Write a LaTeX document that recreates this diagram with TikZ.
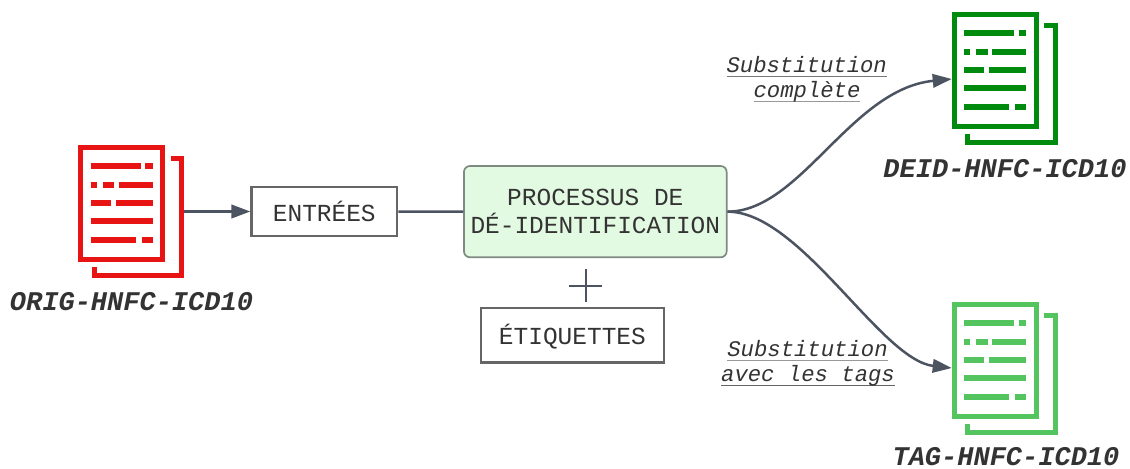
\documentclass[tikz,border=0pt]{standalone}
\usepackage{fontspec}
\setmonofont{Liberation Mono}
\usetikzlibrary{arrows.meta,calc}
\definecolor{inkc}{HTML}{333333}
\definecolor{linkc}{HTML}{4C5361}
\definecolor{boxc}{HTML}{666666}
\definecolor{ulmid}{HTML}{777777}
\definecolor{ullight}{HTML}{999999}
\definecolor{procfill}{HTML}{E2F9E2}
\definecolor{procline}{HTML}{7F8A82}
\definecolor{ured}{HTML}{E81313}
\definecolor{ugreen}{HTML}{008A0E}
\definecolor{ulight}{HTML}{54C45E}
\newlength{\pxu}\setlength{\pxu}{0.75pt}
\tikzset{
  x=0.75pt,y=-0.75pt,
  link/.style={draw=linkc,line width=2.5\pxu},
  arrowlink/.style={link,-{Triangle[length=14.25pt,width=10.1pt]}},
  plainbox/.style={draw=boxc,line width=2.4\pxu,fill=white,inner sep=0pt,text=inkc,
    font=\ttfamily\fontsize{18.35pt}{20.8pt}\selectfont,text depth=0pt},
  procbox/.style={draw=procline,line width=1.7\pxu,fill=procfill,rounded corners=6\pxu,
    inner sep=0pt,text=inkc,align=center,minimum width=262.7\pxu,minimum height=91.3\pxu,
    font=\ttfamily\fontsize{18.35pt}{20.8pt}\selectfont},
  doctitle/.style={anchor=base,inner sep=0pt,text=inkc,
    font=\ttfamily\bfseries\itshape\fontsize{20.25pt}{24pt}\selectfont},
  edgelabel/.style={anchor=base,inner sep=0pt,text=inkc,
    font=\ttfamily\itshape\fontsize{16.7pt}{20pt}\selectfont},
  plusline/.style={draw=linkc,line width=1.6\pxu},
  page/.style={draw=#1,line width=5\pxu,inner sep=0pt,minimum width=82\pxu,minimum height=111.7\pxu,fill=white},
}
% underlined label text
\newcommand{\ulabel}[2]{\setbox0=\hbox{#2}\rlap{\color{#1}\rule[-4.6\pxu]{\wd0}{1.1\pxu}}\box0}
% document icon: name, left, top, colour, arrow anchor offset x, y
\newcommand{\docicon}[7]{%
  \begin{scope}[shift={(#2,#3)}]
    \draw[#4,line width=5\pxu,line cap=butt,line join=miter]
      (92.7,13.5) -- (103.5,13.5) -- (103.5,130.5) -- (16.2,130.5) -- (16.2,122);
    \node[page=#4] (#1) at (43.5,58.35) {};
    \begin{scope}[#4,line width=6\pxu]
      \draw (12.3,21) -- (62.7,21) (67,21) -- (74.3,21);
      \draw (12.3,39.7) -- (18.7,39.7) (24.7,39.7) -- (36,39.7) (40.3,39.7) -- (74.3,39.7);
      \draw (12.3,58) -- (32.7,58) (37.7,58) -- (74.3,58);
      \draw (12.3,76.3) -- (74.3,76.3);
      \draw (12.3,94.7) -- (57.3,94.7) (63.3,94.7) -- (74.3,94.7);
    \end{scope}
    \coordinate (#1port) at (#5,#6);
    \node[doctitle] (#1title) at #7 {\doctext};
  \end{scope}}
\begin{document}
\begin{tikzpicture}
\useasboundingbox (0,0) rectangle (1130,468);
\def\doctext{ORIG-HNFC-ICD10}
\docicon{orig}{78.3}{145}{ured}{106}{66.5}{(53.2,165)}
\def\doctext{DEID-HNFC-ICD10}
\docicon{deid}{951.7}{12}{ugreen}{0}{67}{(53.3,165.5)}
\def\doctext{TAG-HNFC-ICD10}
\docicon{tagd}{951.7}{302}{ulight}{0}{66}{(54.3,163)}

\node[plainbox,minimum width=145.5\pxu,minimum height=48.5\pxu,text height=19\pxu] (entrees) at (324.3,211.5) {ENTRÉES};
\node[procbox] (proc) at (595.3,211.65) {PROCESSUS DE\\DÉ-IDENTIFICATION};
\node[plainbox,minimum width=183\pxu,minimum height=54.5\pxu,text height=17.6\pxu] (etiq) at (572.4,335.2) {ÉTIQUETTES};

\coordinate (plusL) at (569.3,285.7);
\coordinate (plusR) at (602.3,285.7);
\coordinate (plusT) at (586,269);
\coordinate (plusB) at (586,302.3);
\draw[plusline] (plusL) -- (plusR);
\draw[plusline] (plusT) -- (plusB);

\draw[arrowlink] (origport) -- (entrees.west);
\draw[link] (entrees.east) -- (proc.west);
\draw[arrowlink] (proc.east) .. controls +(73,0) and +(-101,10) .. (deidport);
\draw[arrowlink] (proc.east) .. controls +(73,0) and +(-71,-8) .. (tagdport);

\node[edgelabel] (l1) at (806.7,72) {\ulabel{ulmid}{Substitution}};
\node[edgelabel] (l2) at (807,97) {\ulabel{ullight}{complète}};
\node[edgelabel] (l3) at (807.5,356) {\ulabel{ullight}{Substitution}};
\node[edgelabel] (l4) at (808,381.2) {\ulabel{boxc}{avec les tags}};
\end{tikzpicture}
\end{document}
